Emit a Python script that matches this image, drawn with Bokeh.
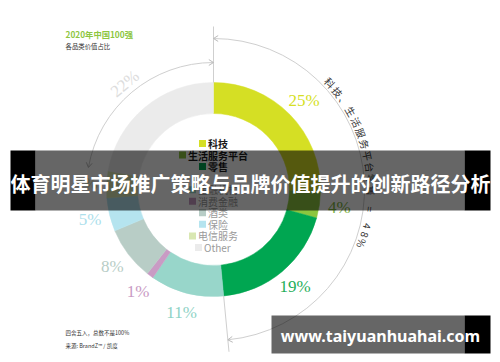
import math
from bokeh.plotting import figure
from bokeh.models import ColumnDataSource, Range1d
from bokeh.embed import file_html
from bokeh.resources import INLINE
from bokeh.core.properties import value

# ---------------- data ----------------
categories = ["科技", "生活服务平台", "零售", "金融机构", "消费金融", "酒类", "保险", "电信服务", "Other"]
shares = [25, 4, 19, 11, 1, 8, 5, 4, 22]
pct_labels = ["25%", "4%", "19%", "11%", "1%", "8%", "5%", "4%", "22%"]
colors = ["#d5df24", "#8cc63f", "#00a651", "#98d6ca", "#c99bc4", "#b8cdc6", "#b5e4ef", "#d9e7b2", "#ebebeb"]
label_colors = ["#d5df24", "#7cb342", "#1fae5a", "#8fd3c6", "#c99bc4", "#b8cdc6", "#ace0ec", "#d2e2a8", "#dddddd"]
top_group = 3           # 科技、生活服务平台、零售
title = "2020年中国100强"
subtitle = "各品类价值占比"
arc_caption = "科技、生活服务平台零售 = 48%"
notes = ["四舍五入，总数不是100%", "来源: BrandZ™ / 凯度"]
banner = "体育明星市场推广策略与品牌价值提升的创新路径分析"
watermark = "www.taiyuanhuahai.com"

# ---------------- layout ----------------
W, H = 492, 354
CX, CY = 213, -189
R_OUT, R_IN = 107, 76
R_LABEL = 127
R_ARC1, R_ARC2 = 127, 151
R_CAP = 158
CJK = "Noto Sans CJK SC"
SERIF = "Liberation Serif"

p = figure(width=W, height=H, x_range=Range1d(0, W), y_range=Range1d(-H, 0),
           x_axis_type=None, y_axis_type=None, output_backend="svg",
           toolbar_location=None, min_border=0)
p.grid.visible = False
p.outline_line_color = None
p.background_fill_color = "white"
p.border_fill_color = "white"

total = float(sum(shares))
th0, th1, cum = [], [], 0.0
for s in shares:
    th0.append(360 * cum / total)
    cum += s
    th1.append(360 * cum / total)

def pt(theta, r):
    t = math.radians(theta)
    return CX + r * math.sin(t), CY + r * math.cos(t)

# donut
src = ColumnDataSource(dict(
    start=[math.radians(90 - b) for b in th1],
    end=[math.radians(90 - a) for a in th0],
    color=colors))
p.annular_wedge(x=CX, y=CY, inner_radius=R_IN, outer_radius=R_OUT,
                start_angle="start", end_angle="end", direction="anticlock",
                color="color", line_color="color", line_width=0.5, source=src)

# percentage labels
lx, ly, lt, lc = [], [], [], []
for i in range(len(shares) - 1):
    m = (th0[i] + th1[i]) / 2
    x, y = pt(m, R_LABEL)
    lx.append(x); ly.append(y); lt.append(pct_labels[i]); lc.append(label_colors[i])
p.text(x=lx, y=ly, text=lt, text_color=lc, text_font=value(SERIF),
       text_font_size="17px", text_align="center", text_baseline="middle")
m_other = (th0[-1] + th1[-1]) / 2
ox, oy = pt(m_other, 138)
p.text(x=[ox], y=[oy], text=[pct_labels[-1]], text_color=label_colors[-1],
       text_font=value(SERIF), text_font_size="17px", angle=math.radians(360 - m_other),
       text_align="center", text_baseline="middle")

# guide arcs
LINE = "#cfcfcf"
p.arc(x=CX, y=CY, radius=R_ARC1, start_angle=math.radians(90 - 360),
      end_angle=math.radians(90 - th0[-1]), direction="anticlock", line_color=LINE, line_width=1)
top_end = th1[top_group - 1]
p.arc(x=CX, y=CY, radius=R_ARC2, start_angle=math.radians(90 - top_end),
      end_angle=math.radians(90), direction="anticlock", line_color=LINE, line_width=1)

# radial tick lines
for th in (0.0, top_end):
    x0, y0 = pt(th, R_OUT)
    x1, y1 = pt(th, R_CAP + 5)
    p.segment(x0=[x0], y0=[y0], x1=[x1], y1=[y1], line_color=LINE, line_width=1)

# arrow heads (open chevrons)
def chevron(theta, r, clockwise, L=5.5, spread=32):
    t = math.radians(theta)
    tip = pt(theta, r)
    dx, dy = math.cos(t), -math.sin(t)
    if not clockwise:
        dx, dy = -dx, -dy
    xs, ys = [], []
    for sgn in (1, -1):
        a = math.radians(sgn * spread)
        bx = dx * math.cos(a) - dy * math.sin(a)
        by = dx * math.sin(a) + dy * math.cos(a)
        xs.append([tip[0] - L * bx, tip[0]])
        ys.append([tip[1] - L * by, tip[1]])
    return xs, ys

axs, ays = [], []
for th, r, cw in ((360.0, R_ARC1, True), (th0[-1], R_ARC1, False),
                  (0.0, R_ARC2, False), (top_end, R_ARC2, True)):
    xs, ys = chevron(th, r, cw)
    axs += xs; ays += ys
p.multi_line(xs=axs, ys=ays, line_color="#bbbbbb", line_width=1)

# caption along the arc
def adv(ch):
    if ch == " ":
        return 3.0
    if ch.isdigit() or ch == "=":
        return 3.2
    if ch == "%":
        return 3.4
    return 4.3

cx_, cy_, ca_, ct_ = [], [], [], []
pos = 47.5
prev = None
for ch in arc_caption:
    if prev is not None:
        pos += (adv(prev) + adv(ch)) / 2
    prev = ch
    if ch == " ":
        continue
    x, y = pt(pos, R_CAP)
    cx_.append(x); cy_.append(y); ca_.append(math.radians(-pos)); ct_.append(ch)
p.text(x=cx_, y=cy_, text=ct_, angle=ca_, text_color="#333333", text_font=value(CJK),
       text_font_size="10px", text_align="center", text_baseline="middle")

# centre legend
def text_w(s, fs):
    w = 0
    for ch in s:
        w += fs if ord(ch) > 0x2E80 else 0.56 * fs
    return w

LFS = 10
for i, c in enumerate(categories):
    row = i + (1 if i >= 3 else 0)
    y = -(143 + row * 11.55)
    tw = text_w(c, LFS)
    left = CX - (7 + 2 + tw) / 2
    p.rect(x=[left + 3.5], y=[y], width=7, height=7, color=colors[i], line_color=None)
    bold = i < top_group
    p.text(x=[left + 9], y=[y], text=[c], text_font=value(CJK), text_font_size=f"{LFS}px",
           text_font_style="bold" if bold else "normal",
           text_color="#1a1a1a" if bold else "#9a9a9a",
           text_align="left", text_baseline="middle")

# titles & notes
p.text(x=[65], y=[-33], text=[title], text_font=value(CJK), text_font_size="8.3px",
       text_font_style="bold", text_color="#8dc63f", text_baseline="middle")
p.text(x=[65], y=[-46], text=[subtitle], text_font=value(CJK), text_font_size="6.4px",
       text_color="#333333", text_baseline="middle")
p.text(x=[65, 65], y=[-332, -345], text=notes, text_font=value(CJK), text_font_size="5.5px",
       text_color="#333333", text_baseline="middle")

# overlay banner
p.quad(left=[10, 464], right=[35, 490], top=[-150, -150], bottom=[-210, -210],
       color="black", line_color=None)
p.quad(left=[35], right=[464], top=[-150], bottom=[-210], color="black",
       fill_alpha=0.6, line_color=None)
p.text(x=[250], y=[-183], text=[banner], text_font=value(CJK), text_font_size="20px",
       text_font_style="bold", text_color="white", text_align="center", text_baseline="middle")

# watermark box
p.quad(left=[464], right=[490], top=[-315], bottom=[-353], color="black", line_color=None)
p.quad(left=[271], right=[464], top=[-315], bottom=[-353], color="black",
       fill_alpha=0.6, line_color=None)
p.text(x=[380], y=[-335], text=[watermark], text_font=value("Noto Sans"), text_font_size="16px",
       text_font_style="bold", text_color="white", text_align="center", text_baseline="middle")

open("out.html", "w").write(file_html(p, INLINE))
